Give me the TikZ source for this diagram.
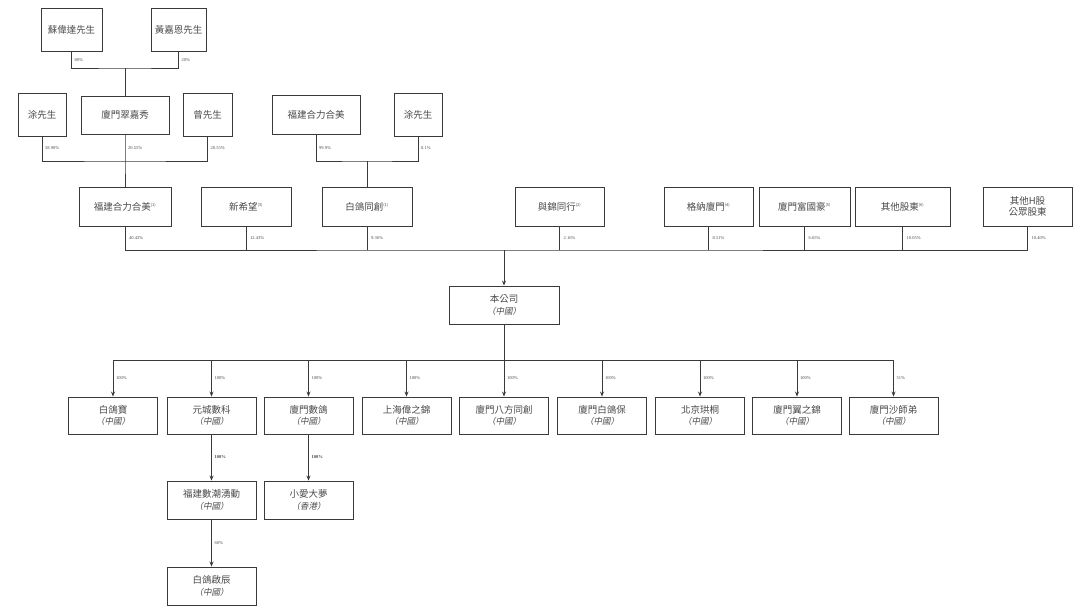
\documentclass[tikz,border=0pt]{standalone}
\usepackage{fontspec}
\setmainfont{Liberation Serif}
\newfontfamily\cjk{Noto Sans CJK TC}
\newfontfamily\cjki[FakeSlant=0.2]{Noto Sans CJK TC}
\usetikzlibrary{arrows.meta}
\definecolor{txt}{HTML}{4A4A4A}
\definecolor{ln}{HTML}{3A3A3A}
\newcommand{\cn}{{\cjki\fontsize{8.5}{10}\selectfont（中國）}}
\newcommand{\hk}{{\cjki\fontsize{8.5}{10}\selectfont（香港）}}
\newcommand{\nt}[1]{\textsuperscript{\fontsize{4}{4}\selectfont(#1)}}
\tikzset{
  box/.style={draw=ln, line width=0.9pt, fill=white, inner sep=1pt, align=center,
    text=txt, font=\cjk\fontsize{9.5}{11.5}\selectfont},
  sub/.style={box, minimum width=89pt, minimum height=37pt},
  top/.style={box, minimum height=39pt},
  pct/.style={anchor=west, inner sep=0pt, text=txt, font=\fontsize{4.5}{5}\selectfont},
  conn/.style={draw=ln, line width=0.8pt},
  arr/.style={conn, -{Stealth[length=5pt,width=4pt]}}
}
\begin{document}
\begin{tikzpicture}[x=1pt,y=-1pt]
\useasboundingbox (0,0) rectangle (1080,616);
\fill[white] (0,0) rectangle (1080,616);
% row 1
\node[box, minimum width=61pt, minimum height=43pt] (su) at (71.5,29.5) {蘇偉達先生};
\node[box, minimum width=55pt, minimum height=43pt] (huang) at (178.5,29.5) {黃嘉恩先生};
% row 2
\node[box, minimum width=48pt, minimum height=43pt] (tuA) at (42,114.5) {涂先生};
\node[box, minimum width=88pt, minimum height=38pt] (cuiji) at (125,115) {廈門翠嘉秀};
\node[box, minimum width=49pt, minimum height=43pt] (zeng) at (207.5,114.5) {曾先生};
\node[box, minimum width=88pt, minimum height=39pt] (fjA) at (316,114.5) {福建合力合美};
\node[box, minimum width=48pt, minimum height=43pt] (tuB) at (418,114.5) {涂先生};
% row 3
\node[top, minimum width=92pt] (fj) at (125,206.5) {福建合力合美\nt{1}};
\node[top, minimum width=90pt] (xxw) at (246,206.5) {新希望\nt{3}};
\node[top, minimum width=90pt] (bgtc) at (367,206.5) {白鴿同創\nt{1}};
\node[top, minimum width=89pt] (yjtx) at (559.5,206.5) {與錦同行\nt{2}};
\node[top, minimum width=89pt] (gn) at (708.5,206.5) {格納廈門\nt{4}};
\node[top, minimum width=91pt] (fgh) at (804.5,206.5) {廈門富國豪\nt{5}};
\node[top, minimum width=95pt] (qt) at (902.5,206.5) {其他股東\nt{6}};
\node[top, minimum width=89pt] (hs) at (1027.5,206.5) {其他H股\\公眾股東};
% company
\node[box, minimum width=110pt, minimum height=38pt] (co) at (504,305) {本公司\\\cn};
% subsidiaries
\node[sub] (s1) at (113,415.5) {白鴿寶\\\cn};
\node[sub] (s2) at (211.5,415.5) {元城數科\\\cn};
\node[sub] (s3) at (308.5,415.5) {廈門數鴿\\\cn};
\node[sub] (s4) at (406.5,415.5) {上海偉之錦\\\cn};
\node[sub] (s5) at (504,415.5) {廈門八方同創\\\cn};
\node[sub] (s6) at (602,415.5) {廈門白鴿保\\\cn};
\node[sub] (s7) at (700,415.5) {北京珙桐\\\cn};
\node[sub] (s8) at (797,415.5) {廈門翼之錦\\\cn};
\node[sub] (s9) at (893.5,415.5) {廈門沙師弟\\\cn};
\node[sub, minimum height=38pt] (t1) at (211.5,500) {福建數潮湧動\\\cn};
\node[sub, minimum height=38pt] (t2) at (308.5,500) {小愛大夢\\\hk};
\node[sub, minimum height=38pt] (u1) at (211.5,586) {白鴿啟辰\\\cn};
% junctions
\coordinate (j1) at (125,68);
\coordinate (j2) at (125,161);
\coordinate (j3) at (367,161);
\coordinate (bus) at (504,250);
\coordinate (sbus) at (504,360);
% connectors top
\draw[conn] (su.south) |- (j1) -| (huang.south);
\draw[conn] (j1) -- (cuiji.north);
\draw[conn] (tuA.south) |- (j2) -| (zeng.south);
\draw[conn] (cuiji.south) -- (j2) -- (fj.north);
\draw[conn] (fjA.south) |- (j3) -| (tuB.south);
\draw[conn] (j3) -- (bgtc.north);
\draw[conn] (fj.south) |- (bus) -| (hs.south);
\foreach \n in {xxw,bgtc,yjtx,gn,fgh,qt} \draw[conn] (\n.south) -- (\n.south |- bus);
\draw[arr] (bus) -- (co.north);
% connectors bottom
\draw[conn] (co.south) -- (sbus);
\draw[arr] (sbus) -| (s1.north);
\draw[arr] (sbus) -| (s9.north);
\foreach \n in {s2,s3,s4,s5,s6,s7,s8} \draw[arr] (\n.north |- sbus) -- (\n.north);
\draw[arr] (s2.south) -- (t1.north);
\draw[arr] (s3.south) -- (t2.north);
\draw[arr] (t1.south) -- (u1.north);
% percentages
\node[pct] (p1) at ([xshift=3pt,yshift=-8.5pt]su.south) {80\%};
\node[pct] (p2) at ([xshift=3pt,yshift=-8.5pt]huang.south) {20\%};
\node[pct] (p3) at ([xshift=3pt,yshift=-12pt]tuA.south) {58.90\%};
\node[pct] (p4) at ([xshift=3pt,yshift=-14pt]cuiji.south) {20.55\%};
\node[pct] (p5) at ([xshift=3pt,yshift=-12pt]zeng.south) {20.55\%};
\node[pct] (p6) at ([xshift=3pt,yshift=-14pt]fjA.south) {99.9\%};
\node[pct] (p7) at ([xshift=3pt,yshift=-12pt]tuB.south) {0.1\%};
\node[pct] (q1) at ([xshift=4pt,yshift=-12pt]fj.south) {40.43\%};
\node[pct] (q2) at ([xshift=4pt,yshift=-12pt]xxw.south) {12.43\%};
\node[pct] (q3) at ([xshift=4pt,yshift=-12pt]bgtc.south) {9.36\%};
\node[pct] (q4) at ([xshift=4pt,yshift=-12pt]yjtx.south) {2.16\%};
\node[pct] (q5) at ([xshift=4pt,yshift=-12pt]gn.south) {8.51\%};
\node[pct] (q6) at ([xshift=4pt,yshift=-12pt]fgh.south) {6.65\%};
\node[pct] (q7) at ([xshift=4pt,yshift=-12pt]qt.south) {10.05\%};
\node[pct] (q8) at ([xshift=4pt,yshift=-12pt]hs.south) {10.40\%};
\foreach \n/\v in {s1/100,s2/100,s3/100,s4/100,s5/100,s6/100,s7/100,s8/100,s9/51}
  \node[pct] (r\n) at ([xshift=3pt,yshift=19pt]\n.north) {\v\%};
\node[pct] (rt1) at ([xshift=3pt,yshift=24pt]t1.north) {\textbf{100\%}};
\node[pct] (rt2) at ([xshift=3pt,yshift=24pt]t2.north) {\textbf{100\%}};
\node[pct] (ru1) at ([xshift=3pt,yshift=24pt]u1.north) {60\%};
\end{tikzpicture}
\end{document}
